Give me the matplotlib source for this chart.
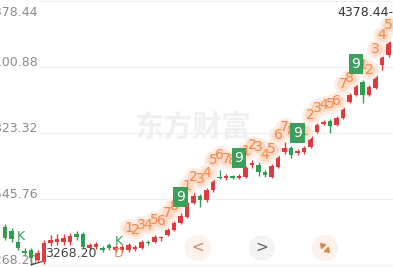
import matplotlib
matplotlib.use("Agg")
import matplotlib.pyplot as plt
import matplotlib.transforms as mtransforms
from matplotlib.patches import Circle

# daily candles, oldest first (Chinese convention: red = up, green = down)
opens = [3428.0, 3411.2, 3364.9, 3327.0, 3331.2, 3289.2, 3280.8, 3360.7, 3364.9, 3364.9,
         3364.9, 3398.5, 3398.5, 3339.6, 3343.8, 3339.6, 3352.3, 3331.2, 3331.2, 3331.2,
         3335.4, 3339.6, 3364.9, 3364.9, 3381.7, 3394.3, 3415.4, 3444.8, 3470.0, 3528.9,
         3558.4, 3541.5, 3583.6, 3638.3, 3634.1, 3642.5, 3634.1, 3638.3, 3688.8, 3688.8,
         3659.3, 3638.3, 3680.3, 3743.4, 3760.3, 3739.2, 3743.4, 3764.5, 3827.5, 3861.2,
         3873.8, 3857.0, 3886.4, 3953.7, 3983.1, 4037.8, 3983.1, 4012.6, 4109.3, 4151.3,
         4214.4]
closes = [3381.7, 3377.5, 3339.6, 3318.6, 3297.6, 3318.6, 3360.7, 3373.3, 3377.5, 3381.7,
          3390.1, 3385.9, 3343.8, 3352.3, 3356.5, 3331.2, 3339.6, 3343.8, 3343.8, 3352.3,
          3343.8, 3364.9, 3360.7, 3385.9, 3385.9, 3415.4, 3444.8, 3474.2, 3528.9, 3558.4,
          3541.5, 3583.6, 3638.3, 3634.1, 3642.5, 3634.1, 3642.5, 3676.1, 3697.2, 3659.3,
          3646.7, 3684.5, 3743.4, 3760.3, 3730.8, 3747.6, 3760.3, 3827.5, 3857.0, 3869.6,
          3852.8, 3886.4, 3957.9, 3983.1, 4037.8, 3983.1, 4016.8, 4105.1, 4142.9, 4206.0,
          4332.2]
highs = [3440.6, 3423.8, 3373.3, 3339.6, 3339.6, 3331.2, 3373.3, 3394.3, 3398.5, 3398.5,
         3402.7, 3411.2, 3407.0, 3360.7, 3364.9, 3348.1, 3360.7, 3352.3, 3352.3, 3360.7,
         3352.3, 3373.3, 3373.3, 3394.3, 3390.1, 3423.8, 3453.2, 3486.9, 3537.3, 3575.2,
         3566.8, 3592.0, 3646.7, 3667.7, 3650.9, 3646.7, 3650.9, 3684.5, 3709.8, 3701.4,
         3667.7, 3692.9, 3751.8, 3785.5, 3768.7, 3756.1, 3768.7, 3835.9, 3865.4, 3878.0,
         3882.2, 3894.8, 3966.3, 3991.5, 4046.2, 4046.2, 4025.2, 4113.5, 4172.4, 4214.4,
         4378.44]
lows = [3373.3, 3364.9, 3331.2, 3306.0, 3268.2, 3280.8, 3272.4, 3348.1, 3352.3, 3352.3,
        3352.3, 3373.3, 3339.6, 3331.2, 3335.4, 3322.8, 3331.2, 3322.8, 3322.8, 3322.8,
        3327.0, 3335.4, 3352.3, 3360.7, 3369.1, 3390.1, 3411.2, 3440.6, 3465.8, 3524.7,
        3512.1, 3533.1, 3575.2, 3629.9, 3625.7, 3629.9, 3629.9, 3634.1, 3676.1, 3642.5,
        3638.3, 3634.1, 3676.1, 3735.0, 3718.2, 3730.8, 3735.0, 3760.3, 3823.3, 3857.0,
        3823.3, 3852.8, 3882.2, 3949.5, 3978.9, 3949.5, 3978.9, 4008.4, 4088.2, 4142.9,
        4206.0]

# TD sequential count shown above each candle (0 = none)
td_counts = [0, 0, 0, 0, 0, 0, 0, 0, 0, 0,
             0, 0, 0, 0, 0, 0, 0, 0, 0, 1,
             2, 3, 4, 5, 6, 7, 8, 9, 1, 2,
             3, 4, 5, 6, 7, 8, 9, 1, 2, 3,
             4, 5, 6, 7, 8, 9, 1, 2, 3, 4,
             5, 6, 7, 8, 9, 1, 2, 3, 4, 5,
             0]
k_marks = [2, 17]
d_marks = [17]

grid_values = [4378.44, 4100.88, 3823.32, 3545.76, 3268.20]
max_label = "4378.44"
min_label = "3268.20"

RED = "#e0393e"
GREEN = "#2f9e50"
ORANGE = "#ee8a4e"

W, H = 393, 267
fig = plt.figure(figsize=(W / 100, H / 100), dpi=100)
fig.patch.set_facecolor("white")

# background layer in pixel coordinates (watermark)
bg = fig.add_axes([0, 0, 1, 1])
bg.set_xlim(0, W)
bg.set_ylim(H, 0)
bg.axis("off")
bg.text(192, 127, "东方财富", fontsize=21, fontweight="bold", color="#f0f0f0",
        ha="center", va="center", family=["Noto Sans CJK SC", "DejaVu Sans"])

ax = fig.add_axes([0, 0, 1, 1])
ax.patch.set_alpha(0)
ax.axis("off")
px_step = 6.5
x0_px = 5.0
ax.set_xlim(-x0_px / px_step, (W - x0_px) / px_step)
per_px = (grid_values[0] - grid_values[-1]) / 264.0
top = grid_values[0] + per_px * 1
ax.set_ylim(top - per_px * H, top)

for v in grid_values:
    ax.axhline(v, xmin=40 / W, xmax=1, color="#eeeeee", lw=0.8, zorder=0)
for k, v in enumerate(grid_values):
    dy = -12 if k == 0 else 5
    ax.annotate(f"{v:.2f}", xy=(0, v), xycoords=("axes fraction", "data"),
                xytext=(-14, dy), textcoords="offset pixels", ha="left", va="center",
                fontsize=9, color="#8a8a8a", annotation_clip=False)

xs = list(range(len(opens)))
for i in xs:
    o, c, h, l = opens[i], closes[i], highs[i], lows[i]
    col = RED if c >= o else GREEN
    ax.vlines(i, l, h, color=col, lw=1, zorder=2)
    ax.bar(i, max(abs(c - o), per_px * 1.2), bottom=min(o, c), width=0.7,
           color=col, zorder=3)

# TD counts: soft halo dots under orange digits, green boxes for the 9s
label_off = mtransforms.offset_copy(ax.transData, fig=fig, x=0, y=15, units="dots")
halo_x = [i for i, n in enumerate(td_counts) if 0 < n < 9]
halo_y = [highs[i] for i in halo_x]
ax.scatter(halo_x, halo_y, s=190, color="#fdeee5", lw=0, zorder=4, transform=label_off)
ax.scatter(halo_x, halo_y, s=80, color="#fbd9c4", lw=0, zorder=4, transform=label_off)
for i, n in enumerate(td_counts):
    if n == 0:
        continue
    if n == 9:
        ax.annotate("9", xy=(i, highs[i]), xytext=(0, 16), textcoords="offset pixels",
                    ha="center", va="center", fontsize=10, color="white", zorder=6,
                    bbox=dict(boxstyle="square,pad=0.2", fc="#3c9f5b", ec="none"))
    else:
        ax.annotate(str(n), xy=(i, highs[i]), xytext=(0, 15), textcoords="offset pixels",
                    ha="center", va="center", fontsize=10, color=ORANGE, zorder=5)

for i in k_marks:
    ax.annotate("K", xy=(i, highs[i]), xytext=(3, 4), textcoords="offset pixels",
                ha="center", va="center", fontsize=9, color=GREEN, zorder=5)
for i in d_marks:
    ax.annotate("D", xy=(i, lows[i]), xytext=(3, -1), textcoords="offset pixels",
                ha="center", va="center", fontsize=9, color=ORANGE, zorder=5)

imax = highs.index(max(highs))
ax.annotate(max_label + "-", xy=(imax, highs[imax]), xytext=(-2, -12),
            textcoords="offset pixels", ha="right", va="center", fontsize=9,
            color="#333333", zorder=7, annotation_clip=False)
imin = lows.index(min(lows))
ax.annotate(min_label, xy=(imin, lows[imin]), xytext=(14, 12),
            textcoords="offset pixels", ha="left", va="center", fontsize=9,
            color="#444444", zorder=7,
            arrowprops=dict(arrowstyle="-", color="#444444", lw=0.8,
                            shrinkA=0, shrinkB=0))

# navigation buttons
fg = fig.add_axes([0, 0, 1, 1])
fg.set_xlim(0, W)
fg.set_ylim(H, 0)
fg.axis("off")
fg.patch.set_alpha(0)
fg.add_patch(Circle((198, 248), 13, color="#fdf1ea", lw=0))
fg.add_patch(Circle((262, 248), 13, color="#f3f3f3", lw=0))
fg.add_patch(Circle((325, 248), 13, color="#fdf1ea", lw=0))
fg.text(198, 247, "<", fontsize=11, color="#c98a60", ha="center", va="center")
fg.text(262, 247, ">", fontsize=11, color="#666666", ha="center", va="center")
arrow = dict(arrowstyle="-|>,head_length=0.25,head_width=0.18", color="#d98641", lw=1.2)
fg.annotate("", xy=(318, 241), xytext=(323.5, 246.5), arrowprops=arrow)
fg.annotate("", xy=(332, 255), xytext=(326.5, 249.5), arrowprops=arrow)

fig.savefig("out.png", dpi=100, facecolor="white")
